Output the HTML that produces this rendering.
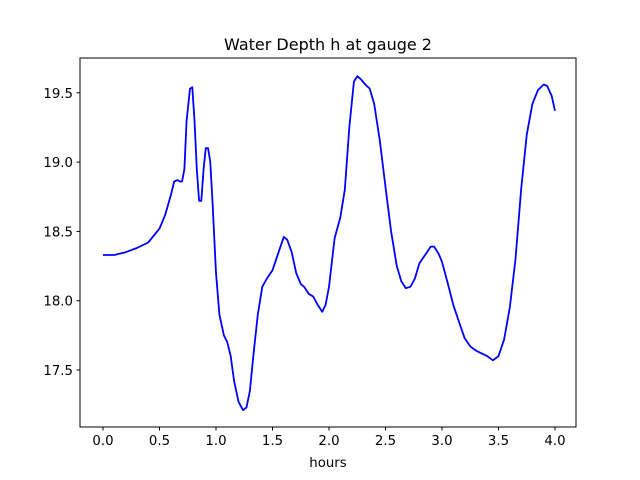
<!DOCTYPE html>
<html><head><meta charset="utf-8"><style>
body{margin:0;background:#fff}
svg{display:block;font-family:"DejaVu Sans","Liberation Sans",sans-serif}
</style></head><body>
<svg id="chart" width="640" height="480" viewBox="0 0 640 480">
<rect width="640" height="480" fill="#fff"/>
<text x="328" y="50" text-anchor="middle" font-size="16">Water Depth h at gauge 2</text>
<g id="plot"></g>
<text x="328" y="467" text-anchor="middle" font-size="13.3">hours</text>
</svg>
<script>
const hours=[0,0.1,0.2,0.3,0.4,0.5,0.55,0.6,0.63,0.66,0.68,0.7,0.72,0.74,0.77,0.79,0.81,0.83,0.85,0.87,0.89,0.91,0.93,0.95,0.97,1.0,1.03,1.07,1.1,1.13,1.16,1.2,1.24,1.27,1.3,1.33,1.37,1.41,1.45,1.5,1.55,1.6,1.63,1.67,1.71,1.75,1.78,1.82,1.86,1.9,1.94,1.97,2.0,2.05,2.1,2.14,2.18,2.22,2.25,2.28,2.32,2.36,2.4,2.45,2.5,2.55,2.6,2.64,2.68,2.72,2.76,2.8,2.85,2.9,2.93,2.97,3.0,3.05,3.1,3.15,3.2,3.25,3.3,3.35,3.4,3.45,3.5,3.55,3.6,3.65,3.7,3.75,3.8,3.85,3.9,3.93,3.97,4.0];
const depth=[18.33,18.33,18.35,18.38,18.42,18.52,18.62,18.76,18.86,18.87,18.86,18.86,18.95,19.3,19.53,19.54,19.3,18.95,18.72,18.72,18.95,19.1,19.1,19.0,18.7,18.2,17.9,17.75,17.7,17.6,17.42,17.27,17.21,17.23,17.35,17.6,17.9,18.1,18.16,18.22,18.34,18.46,18.44,18.35,18.2,18.12,18.1,18.05,18.03,17.97,17.92,17.97,18.1,18.45,18.6,18.8,19.25,19.58,19.62,19.6,19.56,19.53,19.42,19.15,18.82,18.5,18.25,18.14,18.09,18.1,18.16,18.27,18.33,18.39,18.39,18.34,18.28,18.13,17.97,17.85,17.73,17.67,17.64,17.62,17.6,17.57,17.6,17.72,17.95,18.3,18.8,19.2,19.42,19.52,19.56,19.55,19.48,19.37];
const xTicks=[0,0.5,1,1.5,2,2.5,3,3.5,4];
const xTickLabels=["0.0","0.5","1.0","1.5","2.0","2.5","3.0","3.5","4.0"];
const yTicks=[17.5,18,18.5,19,19.5];
const yTickLabels=["17.5","18.0","18.5","19.0","19.5"];
const L=80,R=576,T=58,B=427;
const xs=v=>103+v*113;
const ys=v=>370-(v-17.5)*138.6;
const NS="http://www.w3.org/2000/svg";
const g=document.getElementById('plot');
function mk(t,a){const e=document.createElementNS(NS,t);for(const k in a)e.setAttribute(k,a[k]);g.appendChild(e);return e;}
let d="";
hours.forEach((h,i)=>{d+=(i?"L":"M")+xs(h).toFixed(1)+","+ys(depth[i]).toFixed(1);});
const line=mk('path',{d:d,fill:'none',stroke:'#0000ff','stroke-width':1.8,'stroke-linejoin':'round'});


const frame=mk('rect',{x:L,y:T,width:R-L,height:B-T,fill:'none',stroke:'#000','stroke-width':1});


xTicks.forEach((v,i)=>{
 const x=xs(v);
 const tk=mk('line',{x1:x,x2:x,y1:B,y2:B+3.5,stroke:'#000'});
 
 
 const t=mk('text',{x:x,y:B+18,'text-anchor':'middle','font-size':13.3});
 t.textContent=xTickLabels[i];
 
 
});
yTicks.forEach((v,i)=>{
 const y=ys(v);
 const tk=mk('line',{x1:L-3.5,x2:L,y1:y,y2:y,stroke:'#000'});
 
 
 const t=mk('text',{x:L-7,y:y+5,'text-anchor':'end','font-size':13.3});
 t.textContent=yTickLabels[i];
 
 
});
</script>
</body></html>
